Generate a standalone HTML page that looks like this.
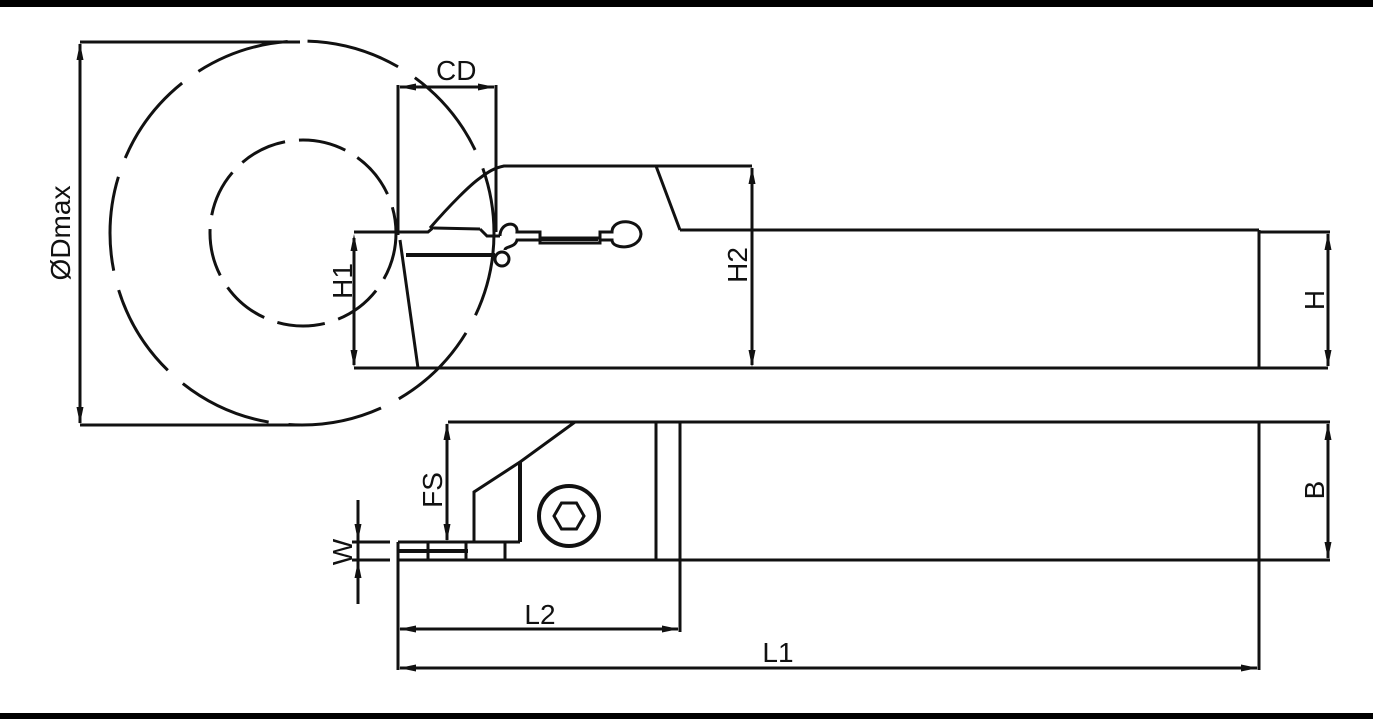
<!DOCTYPE html>
<html><head><meta charset="utf-8"><style>
html,body{margin:0;padding:0;background:#fff;width:1373px;height:719px;overflow:hidden}
svg{display:block}
text{font-family:"Liberation Sans",sans-serif;font-size:28px;fill:#111}
</style></head><body>
<svg width="1373" height="719" viewBox="0 0 1373 719" xmlns="http://www.w3.org/2000/svg">
<rect x="0" y="0" width="1373" height="7" fill="#000"/>
<rect x="0" y="713" width="1373" height="6" fill="#000"/>
<g stroke="#111" fill="none" stroke-width="3">
<circle cx="302" cy="233" r="192" stroke-dasharray="95,20" stroke-dashoffset="10"/>
<circle cx="303" cy="233" r="93" stroke-dasharray="48,14"/>
<line x1="80" y1="42" x2="300" y2="42"/>
<line x1="80" y1="425" x2="300" y2="425"/>
<line x1="80" y1="44" x2="80" y2="423"/>
<line x1="398" y1="85" x2="398" y2="235"/>
<line x1="496" y1="85" x2="496" y2="232"/>
<line x1="400" y1="87" x2="494" y2="87"/>
<polyline points="354,232 428,232 434,227"/>
<line x1="680" y1="230" x2="1259" y2="230"/>
<line x1="354" y1="368" x2="1328" y2="368"/>
<line x1="1259" y1="230" x2="1259" y2="368"/>
<line x1="1259" y1="232" x2="1330" y2="232"/>
<path d="M430,228 C450,205 470,185 480,178 C488,172 494,168 504,166 L752,166"/>
<line x1="656" y1="166" x2="680" y2="230"/>
<line x1="400" y1="240" x2="418" y2="368"/>
<line x1="406" y1="255" x2="495" y2="255" stroke-width="4"/>
<line x1="434" y1="228" x2="480" y2="229"/>
<path d="M480,229 L487,236 L500,236"/>
<path d="M500,236 C500,222 518,220 517,232 L540,232 L540,238 L600,238 L600,232 L612,232 C612,218 640,218 641,234 C640,250 612,250 612,240 L600,240 L600,243 L540,243 L540,240 L517,240 C515,248 505,246 505,250"/>
<line x1="541" y1="239" x2="598" y2="239" stroke-width="4"/>
<circle cx="502" cy="259" r="7"/>
<line x1="354" y1="238" x2="354" y2="365"/>
<line x1="752" y1="168" x2="752" y2="365"/>
<line x1="1328" y1="234" x2="1328" y2="366"/>
<line x1="448" y1="422" x2="1330" y2="422"/>
<line x1="398" y1="560" x2="1330" y2="560"/>
<line x1="656" y1="422" x2="656" y2="560"/>
<line x1="680" y1="422" x2="680" y2="632"/>
<line x1="1259" y1="422" x2="1259" y2="670"/>
<line x1="398" y1="542" x2="398" y2="670"/>
<polyline points="575,422 520,462 520,542"/>
<polyline points="474,542 474,492 520,462"/>
<line x1="520" y1="462" x2="520" y2="542" stroke-width="4"/>
<line x1="398" y1="542" x2="520" y2="542"/>
<line x1="505" y1="542" x2="505" y2="560"/>
<line x1="398" y1="551" x2="468" y2="551" stroke-width="4"/>
<line x1="428" y1="542" x2="428" y2="560"/>
<line x1="466" y1="542" x2="466" y2="560"/>
<circle cx="569" cy="516" r="30" stroke-width="4"/>
<polygon points="584,516 576.5,529 561.5,529 554,516 561.5,503 576.5,503"/>
<line x1="447" y1="424" x2="447" y2="540"/>
<line x1="352" y1="542" x2="390" y2="542"/>
<line x1="352" y1="560" x2="390" y2="560"/>
<line x1="358" y1="500" x2="358" y2="604"/>
<line x1="1328" y1="424" x2="1328" y2="558"/>
<line x1="400" y1="629" x2="678" y2="629"/>
<line x1="400" y1="668" x2="1257" y2="668"/>
</g>
<g fill="#111">
<!-- vertical arrows: up tip (x,y): x-3.5,y+16 ; down -->
<polygon points="80,43 76.5,60 83.5,60"/><polygon points="80,424 76.5,407 83.5,407"/>
<polygon points="354,234 350.5,251 357.5,251"/><polygon points="354,367 350.5,350 357.5,350"/>
<polygon points="752,167 748.5,184 755.5,184"/><polygon points="752,367 748.5,350 755.5,350"/>
<polygon points="1328,233 1324.5,250 1331.5,250"/><polygon points="1328,367 1324.5,350 1331.5,350"/>
<polygon points="1328,423 1324.5,440 1331.5,440"/><polygon points="1328,559 1324.5,542 1331.5,542"/>
<polygon points="447,423 443.5,440 450.5,440"/><polygon points="447,541 443.5,524 450.5,524"/>
<polygon points="358,541 354.5,524 361.5,524"/><polygon points="358,561 354.5,578 361.5,578"/>
<polygon points="399,87 416,83.5 416,90.5"/><polygon points="495,87 478,83.5 478,90.5"/>
<polygon points="399,629 416,625.5 416,632.5"/><polygon points="679,629 662,625.5 662,632.5"/>
<polygon points="399,668 416,664.5 416,671.5"/><polygon points="1258,668 1241,664.5 1241,671.5"/>
</g>
<text x="436" y="80">CD</text>
<text transform="translate(70,233) rotate(-90)" text-anchor="middle">ØDmax</text>
<text transform="translate(352,281) rotate(-90)" text-anchor="middle">H1</text>
<text transform="translate(747,265) rotate(-90)" text-anchor="middle">H2</text>
<text transform="translate(1324,300) rotate(-90)" text-anchor="middle">H</text>
<text transform="translate(1324,490) rotate(-90)" text-anchor="middle">B</text>
<text transform="translate(442,490) rotate(-90)" text-anchor="middle">FS</text>
<text transform="translate(352,552) rotate(-90)" text-anchor="middle">W</text>
<text x="540" y="624" text-anchor="middle">L2</text>
<text x="778" y="662" text-anchor="middle">L1</text>
</svg>
</body></html>
